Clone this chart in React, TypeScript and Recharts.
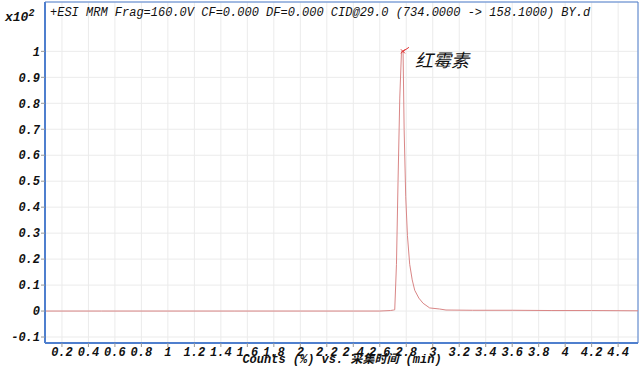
import { LineChart, Line, XAxis, YAxis, CartesianGrid, ReferenceArea, ReferenceDot } from "recharts";

// acquisition time (min) and counts (x10^2)
const times = [0.07, 0.5, 1.0, 1.5, 2.0, 2.4, 2.6, 2.68, 2.705, 2.713, 2.726, 2.738, 2.751, 2.764, 2.776, 2.784, 2.796, 2.809, 2.826, 2.845, 2.864, 2.895, 2.927, 2.977, 3.05, 3.1, 3.3, 3.6, 3.9, 4.2, 4.55];
const counts = [0, 0, 0, 0, 0, 0, 0, 0.002, 0.004, 0.005, 0.18, 0.5, 0.82, 1.0, 1.0, 0.7, 0.44, 0.29, 0.18, 0.12, 0.08, 0.05, 0.03, 0.012, 0.008, 0.004, 0.003, 0.003, 0.002, 0.002, 0.001];

const xTicks = [0.2, 0.4, 0.6, 0.8, 1, 1.2, 1.4, 1.6, 1.8, 2, 2.2, 2.4, 2.6, 2.8, 3, 3.2, 3.4, 3.6, 3.8, 4, 4.2, 4.4];
const yTicks = [-0.1, 0, 0.1, 0.2, 0.3, 0.4, 0.5, 0.6, 0.7, 0.8, 0.9, 1];

const peakLabel = "红霉素";
const title = "+ESI MRM Frag=160.0V CF=0.000 DF=0.000 CID@29.0 (734.0000 -> 158.1000) BY.d";
const xLabel = "Counts (%) vs. 采集时间 (min)";

const data = times.map((t, i) => ({ t, v: counts[i] }));

const X_DOMAIN: [number, number] = [0.072, 4.55];
const Y_DOMAIN: [number, number] = [-0.123, 1.19];
const BLUE = "#4f7fce";
const TICK_FONT = "'Liberation Mono', 'Noto Sans CJK SC', monospace";

const fmt = (v: number) => String(Math.round(v * 10) / 10);

function PeakMark(props: any) {
  const { cx, cy } = props;
  return (
    <g>
      <path d={`M${cx - 2},${cy - 2} L${cx + 2},${cy + 2} M${cx - 2},${cy + 2} L${cx + 2},${cy - 2} M${cx},${cy} L${cx + 6},${cy - 4}`} stroke="#e03030" strokeWidth={1} fill="none" />
      <text x={cx + 12} y={cy + 16} fontSize={18} fontStyle="italic" fontFamily="'Noto Sans CJK SC', sans-serif" fill="#111">
        {peakLabel}
      </text>
    </g>
  );
}

export default function App() {
  return (
    <div style={{ position: "absolute", left: 0, top: 0, width: 642, height: 367, background: "#fff", overflow: "hidden" }}>
      <LineChart width={642} height={367} data={data} margin={{ top: 2, right: 4, left: 0, bottom: 0 }}>
        <CartesianGrid stroke="#ebebeb" strokeWidth={1} />
        <XAxis
          dataKey="t"
          type="number"
          domain={X_DOMAIN}
          ticks={xTicks}
          allowDataOverflow
          height={24}
          tickFormatter={fmt}
          tickSize={4}
          tickMargin={0}
          tickLine={{ stroke: "#999" }}
          axisLine={{ stroke: BLUE, strokeWidth: 2 }}
          tick={{ fontSize: 12, fontStyle: "italic", fontWeight: "bold", fontFamily: TICK_FONT, fill: "#111" }}
          interval={0}
        />
        <YAxis
          type="number"
          domain={Y_DOMAIN}
          ticks={yTicks}
          allowDataOverflow
          width={45}
          tickFormatter={fmt}
          tickSize={4}
          tickMargin={1}
          tickLine={{ stroke: "#999" }}
          axisLine={{ stroke: BLUE, strokeWidth: 2 }}
          tick={{ fontSize: 12, fontStyle: "italic", fontWeight: "bold", fontFamily: TICK_FONT, fill: "#111" }}
          interval={0}
        />
        <ReferenceArea x1={X_DOMAIN[0]} x2={X_DOMAIN[1]} y1={Y_DOMAIN[0]} y2={Y_DOMAIN[1]} fill="none" stroke={BLUE} strokeWidth={1} ifOverflow="visible" />
        <Line dataKey="v" type="linear" stroke="#d98686" strokeWidth={1} dot={false} isAnimationActive={false} />
        <ReferenceDot x={2.775} y={1.0} shape={PeakMark} ifOverflow="visible" />
      </LineChart>
      <div style={{ position: "absolute", left: 50, top: 6, fontFamily: TICK_FONT, fontStyle: "italic", fontSize: 12, color: "#111", whiteSpace: "pre" }}>
        {title}
      </div>
      <div style={{ position: "absolute", left: 5, top: 8, fontFamily: TICK_FONT, fontStyle: "italic", fontWeight: "bold", fontSize: 13, color: "#111" }}>
        x10<sup style={{ fontSize: 10 }}>2</sup>
      </div>
      <div style={{ position: "absolute", left: 0, width: 684, top: 354, lineHeight: "13px", textAlign: "center", fontFamily: TICK_FONT, fontStyle: "italic", fontWeight: "bold", fontSize: 12, color: "#111", whiteSpace: "pre" }}>
        {xLabel}
      </div>
    </div>
  );
}
